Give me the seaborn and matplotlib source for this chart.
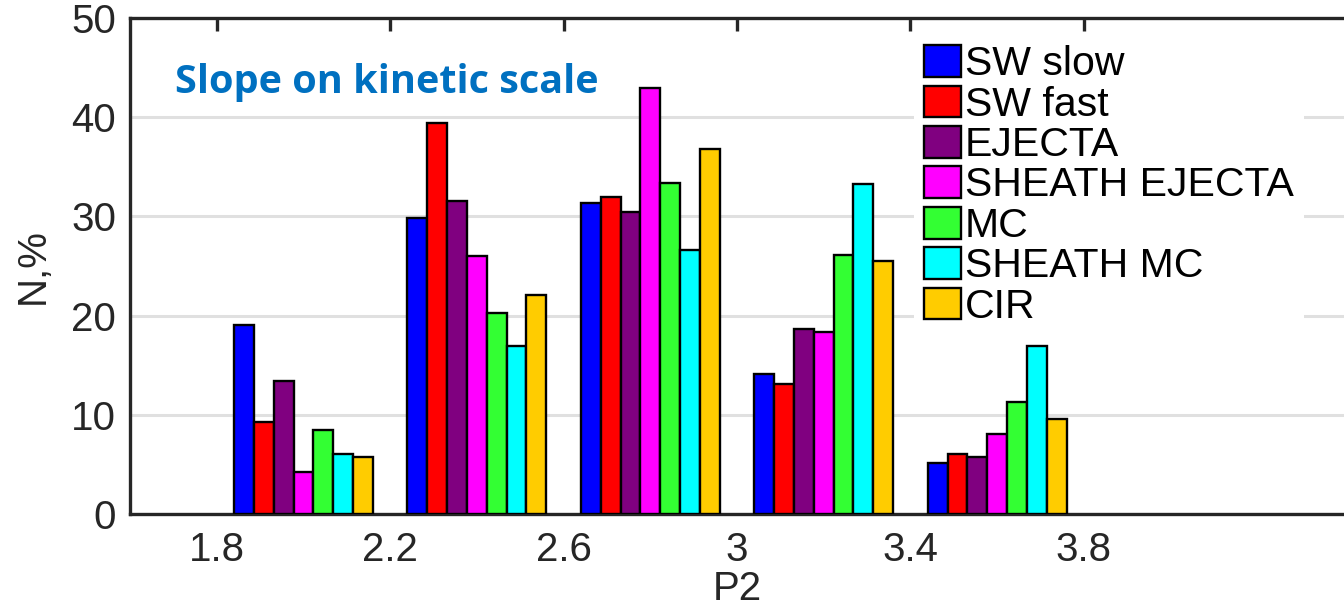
import numpy as np
import pandas as pd
import matplotlib
matplotlib.use("Agg")
import matplotlib.pyplot as plt
from matplotlib.patches import Patch
import seaborn as sns

# Histogram bin centres of the P2 slope
p2_bins = [2.0, 2.4, 2.8, 3.2, 3.6]

# Share of intervals (%) falling into each bin, per plasma type
sw_slow = [19.1, 29.8, 31.4, 14.1, 5.1]
sw_fast = [9.3, 39.4, 32.0, 13.1, 6.0]
ejecta = [13.4, 31.6, 30.4, 18.6, 5.7]
sheath_ejecta = [4.2, 26.0, 42.9, 18.3, 8.1]
mc = [8.5, 20.3, 33.4, 26.1, 11.3]
sheath_mc = [6.0, 16.9, 26.6, 33.3, 16.9]
cir = [5.7, 22.1, 36.8, 25.5, 9.6]

series_names = ["SW slow", "SW fast", "EJECTA", "SHEATH EJECTA", "MC", "SHEATH MC", "CIR"]
series_values = [sw_slow, sw_fast, ejecta, sheath_ejecta, mc, sheath_mc, cir]
series_colors = ["#0000FF", "#FF0000", "#800080", "#FF00FF", "#33FF33", "#00FFFF", "#FFCC00"]

x_ticks = [1.8, 2.2, 2.6, 3.0, 3.4, 3.8]
x_tick_labels = ["1.8", "2.2", "2.6", "3", "3.4", "3.8"]
y_ticks = [0, 10, 20, 30, 40, 50]

df = pd.DataFrame(
    [(x, name, v) for name, vals in zip(series_names, series_values) for x, v in zip(p2_bins, vals)],
    columns=["P2", "type", "N"],
)

sns.set_theme(style="white")
plt.rcParams["font.family"] = ["Liberation Sans", "DejaVu Sans"]
axis_color = "#262626"

fig = plt.figure(figsize=(13.44, 6.12), dpi=100)
ax = fig.add_axes([130 / 1344, 1 - 514 / 612, (1344 - 130) / 1344, (514 - 18) / 612])

sns.barplot(
    data=df, x="P2", y="N", hue="type", hue_order=series_names,
    palette=series_colors, native_scale=True, width=0.8, saturation=1,
    edgecolor="black", linewidth=1.7, legend=False, ax=ax, zorder=3,
)

ax.set_xlim(1.6, 4.4)
ax.set_ylim(0, 50)
ax.set_xticks(x_ticks)
ax.set_xticklabels(x_tick_labels)
ax.set_yticks(y_ticks)

ax.yaxis.grid(True, color="#e0e0e0", linewidth=2.2, zorder=0)
ax.xaxis.grid(False)
ax.set_axisbelow(True)

for side in ["left", "bottom", "top"]:
    ax.spines[side].set_color(axis_color)
    ax.spines[side].set_linewidth(2.4)
ax.spines["right"].set_visible(False)

ax.tick_params(axis="both", direction="in", length=9, width=2.4, color=axis_color,
               labelcolor=axis_color, labelsize=29, top=True, pad=12)
ax.tick_params(axis="y", pad=10)

ax.set_xlabel("P2", fontsize=29, color=axis_color, labelpad=1)
ax.set_ylabel("N,%", fontsize=29, color=axis_color, labelpad=14)

ax.text(0.037, 0.87, "Slope on kinetic scale", transform=ax.transAxes,
        fontsize=28.5, fontweight="bold", color="#0070C0", family="Open Sans",
        va="center", ha="left")

handles = [Patch(facecolor=c, edgecolor="black", linewidth=1.7) for c in series_colors]
leg = ax.legend(
    handles, series_names, loc="upper left", bbox_to_anchor=(0.646, 0.966),
    fontsize=29.5, frameon=True, fancybox=False, framealpha=1, edgecolor="white",
    handlelength=0.88, handleheight=0.82, handletextpad=0.1, labelspacing=0.055,
    borderpad=0.25, borderaxespad=0,
)
leg.get_frame().set_linewidth(0)
for t in leg.get_texts():
    t.set_color("black")

fig.savefig("out.png", dpi=100)
